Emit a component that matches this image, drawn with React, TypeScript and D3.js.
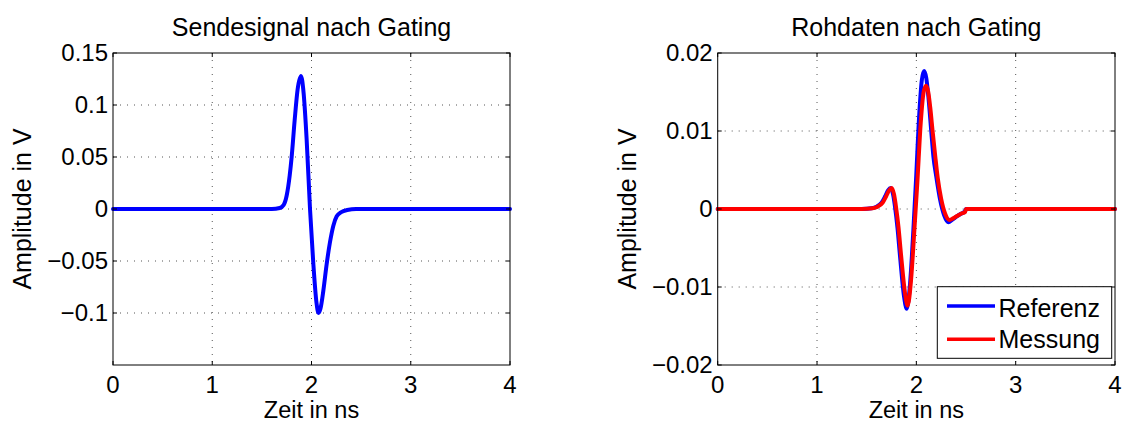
import React from "react";
import * as d3 from "d3";

// ---- Data ----
const sendT = [0, 1.6, 1.68, 1.72, 1.75, 1.78, 1.8, 1.83, 1.86, 1.894, 1.92, 1.951, 1.985, 2.018, 2.05, 2.07, 2.09, 2.12, 2.15, 2.186, 2.22, 2.254, 2.3, 2.36, 2.45, 4];
const sendV = [0, 0, 0.001, 0.004, 0.013, 0.032, 0.05, 0.085, 0.115, 0.128, 0.112, 0.067, 0, -0.052, -0.09, -0.1, -0.096, -0.078, -0.055, -0.032, -0.016, -0.007, -0.003, -0.001, 0, 0];

const refT = [0, 1.45, 1.55, 1.6, 1.65, 1.685, 1.715, 1.742, 1.765, 1.785, 1.81, 1.836, 1.876, 1.903, 1.937, 1.97, 1.997, 2.03, 2.055, 2.078, 2.1, 2.121, 2.15, 2.172, 2.2, 2.239, 2.28, 2.323, 2.36, 2.407, 2.45, 2.49, 2.5, 4];
const refV = [0, 0, 0.0001, 0.0003, 0.0008, 0.0016, 0.0024, 0.0027, 0.0019, 0.0003, -0.0024, -0.0061, -0.0112, -0.0128, -0.0095, -0.0027, 0.0038, 0.0123, 0.0165, 0.0177, 0.0168, 0.0144, 0.01, 0.0067, 0.0042, 0.0012, -0.0008, -0.0017, -0.0014, -0.00095, -0.0006, -0.0003, 0, 0];

const measT = [0, 1.45, 1.56, 1.61, 1.66, 1.695, 1.725, 1.752, 1.775, 1.795, 1.82, 1.846, 1.886, 1.912, 1.946, 1.98, 2.01, 2.045, 2.072, 2.097, 2.12, 2.14, 2.165, 2.19, 2.215, 2.25, 2.29, 2.335, 2.37, 2.41, 2.45, 2.49, 2.5, 4];
const measV = [0, 0, 0.0001, 0.0003, 0.0008, 0.0016, 0.0024, 0.0027, 0.0019, 0.0003, -0.0023, -0.0059, -0.0108, -0.0124, -0.0092, -0.0027, 0.0034, 0.0112, 0.0149, 0.0158, 0.015, 0.013, 0.0098, 0.0068, 0.004, 0.0013, -0.0006, -0.0014, -0.0012, -0.0009, -0.0006, -0.0004, 0, 0];

const xTicks = [0, 1, 2, 3, 4];
const leftYTicks = [-0.1, -0.05, 0, 0.05, 0.1, 0.15];
const rightYTicks = [-0.02, -0.01, 0, 0.01, 0.02];
const leftYLabels = ["\u22120.1", "\u22120.05", "0", "0.05", "0.1", "0.15"];
const rightYLabels = ["\u22120.02", "\u22120.01", "0", "0.01", "0.02"];
const legendNames = ["Referenz", "Messung"];

const FONT = "'Liberation Sans', Arial, Helvetica, sans-serif";
const FS = 24;

type Series = { t: number[]; v: number[]; color: string };

function Panel(props: {
  x0: number; x1: number; y0: number; y1: number;
  yDomain: [number, number];
  yTicks: number[]; yLabels: string[];
  title: string; series: Series[]; legend?: boolean;
}) {
  const { x0, x1, y0, y1, yDomain, yTicks, yLabels, title, series, legend } = props;
  const x = d3.scaleLinear().domain([0, 4]).range([x0, x1]);
  const y = d3.scaleLinear().domain(yDomain).range([y1, y0]);
  const line = d3.line<[number, number]>().x(d => x(d[0])).y(d => y(d[1])).curve(d3.curveMonotoneX);
  const tl = 4;
  const cx = (x0 + x1) / 2;
  const cy = (y0 + y1) / 2;
  return (
    <g fontFamily={FONT} fontSize={FS} fill="#000">
      <rect x={x0} y={y0} width={x1 - x0} height={y1 - y0} fill="#fff" />
      {/* grid */}
      {xTicks.filter(t => t > 0 && t < 4).map(t => (
        <line key={"gx" + t} x1={x(t)} x2={x(t)} y1={y0} y2={y1} stroke="#555" strokeWidth={1} strokeDasharray="1,6" />
      ))}
      {yTicks.filter(t => t > yDomain[0] && t < yDomain[1]).map(t => (
        <line key={"gy" + t} x1={x0} x2={x1} y1={y(t)} y2={y(t)} stroke="#555" strokeWidth={1} strokeDasharray="1,6" />
      ))}
      {/* data */}
      <g>
        {series.map((s, i) => (
          <path key={i} d={line(s.t.map((t, k) => [t, s.v[k]] as [number, number])) || ""} fill="none" stroke={s.color} strokeWidth={4} strokeLinejoin="round" strokeLinecap="round" />
        ))}
      </g>
      {/* ticks */}
      {xTicks.map(t => (
        <g key={"tx" + t}>
          <line x1={x(t)} x2={x(t)} y1={y1} y2={y1 - tl} stroke="#000" />
          <line x1={x(t)} x2={x(t)} y1={y0} y2={y0 + tl} stroke="#000" />
          <text x={x(t)} y={392.5} textAnchor="middle">{t}</text>
        </g>
      ))}
      {yTicks.map((t, i) => (
        <g key={"ty" + t}>
          <line x1={x0} x2={x0 + tl} y1={y(t)} y2={y(t)} stroke="#000" />
          <line x1={x1} x2={x1 - tl} y1={y(t)} y2={y(t)} stroke="#000" />
          <text x={x0 - 5} y={y(t)} dy="0.35em" textAnchor="end">{yLabels[i]}</text>
        </g>
      ))}
      <rect x={x0} y={y0} width={x1 - x0} height={y1 - y0} fill="none" stroke="#000" strokeWidth={1} />
      {/* labels */}
      <text x={cx} y={36} textAnchor="middle" fontSize={25}>{title}</text>
      <text x={cx} y={418} textAnchor="middle" fontSize={23.5}>Zeit in ns</text>
      <text transform={`translate(${x0 - 82},${cy}) rotate(-90)`} textAnchor="middle" fontSize={25}>Amplitude in V</text>
      {legend && (
        <g>
          <rect x={937.3} y={286.7} width={174.4} height={71.6} fill="#fff" stroke="#000" strokeWidth={1} />
          {series.map((s, i) => (
            <g key={"lg" + i}>
              <line x1={947} x2={995} y1={306 + i * 33.3} y2={306 + i * 33.3} stroke={s.color} strokeWidth={3.5} />
              <text x={998.5} y={316.7 + i * 31.6} fontSize={25}>{legendNames[i]}</text>
            </g>
          ))}
        </g>
      )}
    </g>
  );
}

export default function App() {
  return (
    <svg width={1128} height={423} style={{ position: "absolute", left: 0, top: 0, background: "#fff" }}>
      <rect width={1128} height={423} fill="#fff" />
      <Panel x0={113} x1={510} y0={53} y1={365} yDomain={[-0.15, 0.15]}
        yTicks={leftYTicks} yLabels={leftYLabels} title="Sendesignal nach Gating"
        series={[{ t: sendT, v: sendV, color: "#0000ff" }]} />
      <Panel x0={717.7} x1={1115} y0={53} y1={365} yDomain={[-0.02, 0.02]}
        yTicks={rightYTicks} yLabels={rightYLabels} title="Rohdaten nach Gating"
        series={[{ t: refT, v: refV, color: "#0000ff" }, { t: measT, v: measV, color: "#ff0000" }]} legend />
    </svg>
  );
}
